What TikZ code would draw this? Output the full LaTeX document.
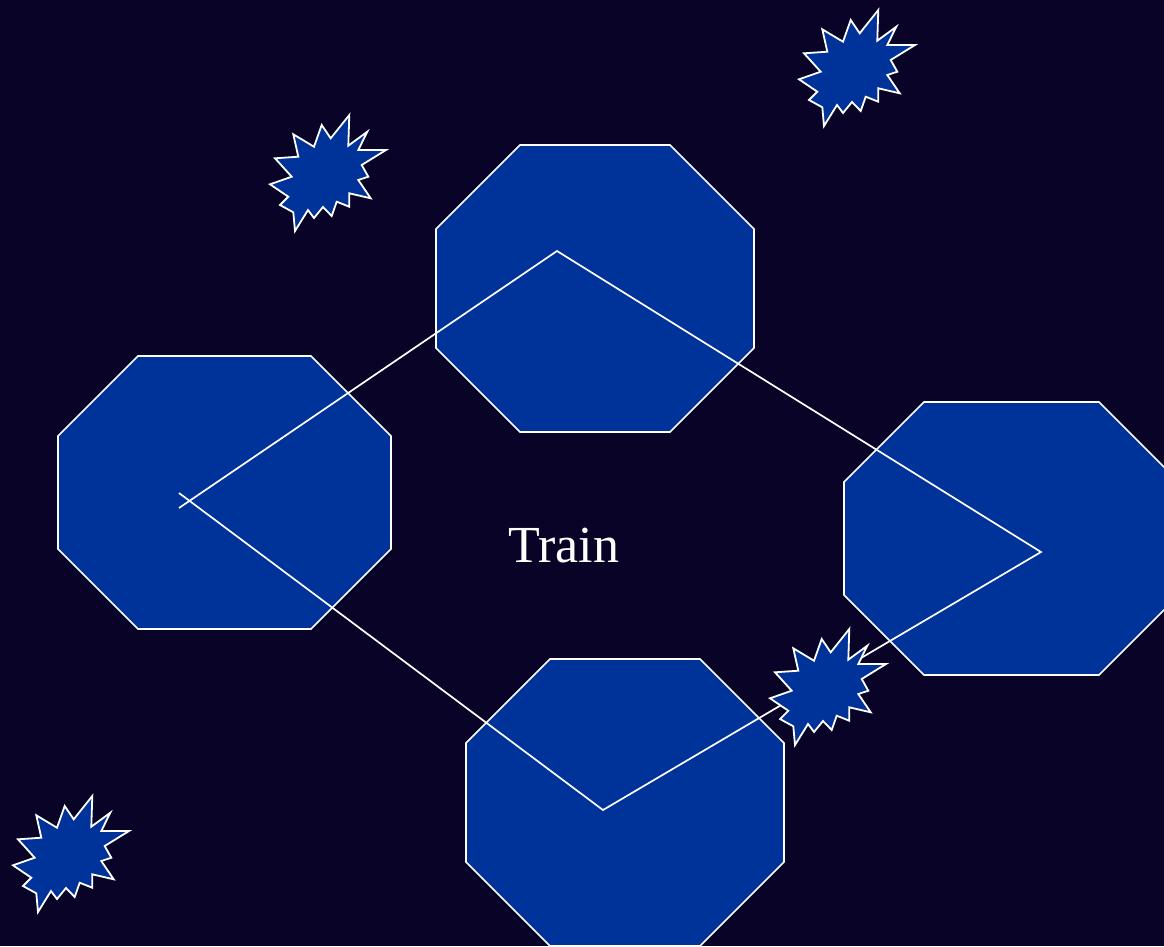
\documentclass[tikz,border=0pt]{standalone}
\usepackage{fontspec}
\setmainfont{Liberation Serif}
\definecolor{bgc}{RGB}{10,3,40}
\definecolor{octc}{RGB}{0,51,153}
\tikzset{
  octo/.style={fill=octc, draw=white, line width=1.7pt, line join=miter},
  link/.style={draw=white, line width=1.7pt},
  burststy/.style={fill=octc, draw=white, line width=1.8pt, line join=miter},
  burst/.pic={
    \path[burststy] (21.3,-57) -- (20.3,-26.3) -- (39.3,-40.3) -- (30.3,-22) -- (58,-22)
      -- (33.7,-7) -- (40.3,4.7) -- (30.3,8) -- (42.7,26.3) -- (21.3,21.3) -- (21.3,34.7)
      -- (8.7,29.7) -- (3.7,44) -- (-5,35) -- (-14,46) -- (-20,38) -- (-33,59)
      -- (-34.7,40.3) -- (-48,33) -- (-39.7,24.7) -- (-58,12.3) -- (-36.3,4.7)
      -- (-53,-13.7) -- (-29.7,-15.3) -- (-34.7,-37.7) -- (-14,-25.3) -- (-6.3,-47)
      -- (2.7,-33.7) -- cycle;
  }
}
\begin{document}
\begin{tikzpicture}[x=1pt,y=-1pt]
\fill[bgc] (0,0) rectangle (1164,946);
\useasboundingbox (0,0) rectangle (1164,946);
\clip (0,0) rectangle (1164,946);
% octagons
\path[octo] (520,145) -- (670,145) -- (754,229) -- (754,348) -- (670,432) -- (520,432) -- (436,348) -- (436,229) -- cycle;
\path[octo] (138,356) -- (311,356) -- (391,436) -- (391,549) -- (311,629) -- (138,629) -- (58,549) -- (58,436) -- cycle;
\path[octo] (924,402) -- (1099,402) -- (1179,482) -- (1179,595) -- (1099,675) -- (924,675) -- (844,595) -- (844,482) -- cycle;
\path[octo] (550,659) -- (700,659) -- (784,743) -- (784,862) -- (700,946) -- (550,946) -- (466,862) -- (466,743) -- cycle;
% connector vertices
\coordinate (s) at (179,508);
\coordinate (t) at (557,251);
\coordinate (r) at (1041,552);
\coordinate (b) at (603,810);
\coordinate (e) at (179,493);
\draw[link] (s) -- (t) -- (r) -- (b) -- (e);
% starbursts
\pic at (857,67) {burst};
\pic at (328,172) {burst};
\pic at (828,686) {burst};
\pic at (71,853) {burst};
\node[text=white, font=\fontsize{52}{60}\selectfont, inner sep=0pt, anchor=base] (lbl) at (564,562) {Train};
\end{tikzpicture}
\end{document}
